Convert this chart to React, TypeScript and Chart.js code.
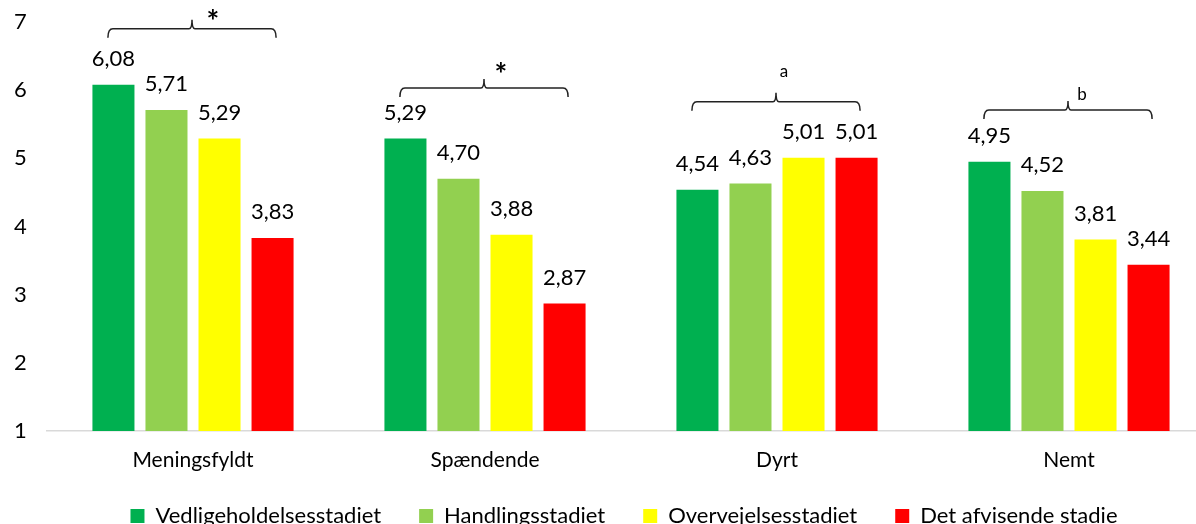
import React, { useEffect, useRef } from "react";
import { Chart, registerables } from "chart.js";

Chart.register(...registerables);

const categories = ["Meningsfyldt", "Spændende", "Dyrt", "Nemt"];
const seriesNames = [
  "Vedligeholdelsesstadiet",
  "Handlingsstadiet",
  "Overvejelsesstadiet",
  "Det afvisende stadie",
];
const vedligehold = [6.08, 5.29, 4.54, 4.95];
const handling = [5.71, 4.7, 4.63, 4.52];
const overvejelse = [5.29, 3.88, 5.01, 3.81];
const afvisende = [3.83, 2.87, 5.01, 3.44];
const yTicks = [1, 2, 3, 4, 5, 6, 7];

// significance brackets (levels in axis units)
const bracketLevels = [6.9, 6.03, 5.83, 5.71];
const bracketMarks = ["*", "*", "a", "b"];
const markLevels = [7.1, 6.32, 6.27, 5.93];

// styling
const colors = ["#00B050", "#92D050", "#FFFF00", "#FF0000"];
const markOffsetsPx = [21, 17, 8, 14];
const FONT = "Lato, 'Open Sans', sans-serif";
const LEGEND_SHIFT = 10;

const fmt = (v: number) => v.toFixed(2).replace(".", ",");

const labelPlugin = {
  id: "valueLabels",
  afterDatasetsDraw(chart: any) {
    const ctx = chart.ctx;
    ctx.save();
    ctx.font = `22px ${FONT}`;
    ctx.fillStyle = "#000";
    ctx.textAlign = "center";
    ctx.textBaseline = "middle";
    chart.data.datasets.forEach((ds: any, di: number) => {
      const meta = chart.getDatasetMeta(di);
      meta.data.forEach((el: any, i: number) => {
        ctx.fillText(fmt(ds.data[i]), el.x, el.y - 26);
      });
    });
    ctx.restore();
  },
};

const legendShiftPlugin = {
  id: "legendShift",
  afterLayout(chart: any) {
    const lg = chart.legend;
    if (lg) {
      lg.top -= LEGEND_SHIFT;
      lg.bottom -= LEGEND_SHIFT;
    }
  },
};

const bracketPlugin = {
  id: "brackets",
  afterDraw(chart: any) {
    const ctx = chart.ctx;
    const x = chart.scales.x;
    const y = chart.scales.y;
    const catW = (x.right - x.left) / categories.length;
    ctx.save();
    ctx.strokeStyle = "#222";
    ctx.lineWidth = 1.5;
    categories.forEach((_, i) => {
      const xc = x.getPixelForValue(i) - 1;
      const half = catW * 0.288;
      const x0 = xc - half;
      const x1 = xc + half;
      const yl = y.getPixelForValue(bracketLevels[i]);
      const d = 9;
      ctx.beginPath();
      ctx.moveTo(x0, yl + d);
      ctx.quadraticCurveTo(x0, yl, x0 + 5, yl);
      ctx.lineTo(xc - 3, yl);
      ctx.quadraticCurveTo(xc, yl, xc, yl - d);
      ctx.quadraticCurveTo(xc, yl, xc + 3, yl);
      ctx.lineTo(x1 - 5, yl);
      ctx.quadraticCurveTo(x1, yl, x1, yl + d);
      ctx.stroke();
      const mark = bracketMarks[i];
      ctx.fillStyle = "#000";
      ctx.textAlign = "center";
      ctx.textBaseline = "middle";
      ctx.font = mark === "*" ? `bold 30px ${FONT}` : `17px ${FONT}`;
      const my = y.getPixelForValue(markLevels[i]) + (mark === "*" ? 7 : 0);
      ctx.fillText(mark, xc + markOffsetsPx[i], my);
    });
    ctx.restore();
  },
};

export default function App() {
  const ref = useRef<HTMLCanvasElement>(null);
  useEffect(() => {
    const canvas = ref.current;
    if (!canvas) return;
    const seriesData = [vedligehold, handling, overvejelse, afvisende];
    const chart = new Chart(canvas, {
      type: "bar",
      data: {
        labels: categories,
        datasets: seriesNames.map((name, i) => ({
          label: name,
          data: seriesData[i],
          backgroundColor: colors[i],
          borderWidth: 0,
          categoryPercentage: 0.7265,
          barPercentage: 0.7925,
        })),
      },
      options: {
        responsive: false,
        animation: false,
        devicePixelRatio: 1,
        layout: { padding: { top: 22, left: 33, right: 0, bottom: 4 } },
        plugins: {
          tooltip: { enabled: false },
          legend: {
            position: "bottom",
            labels: {
              boxWidth: 14,
              boxHeight: 14,
              padding: 38,
              color: "#000",
              font: { family: FONT, size: 22 },
            },
          },
        },
        scales: {
          x: {
            grid: { display: false, drawTicks: false },
            border: { display: true, color: "#D9D9D9", width: 1.5 },
            ticks: {
              color: "#000",
              padding: 17,
              font: { family: FONT, size: 21 },
            },
            afterFit: (s: any) => {
              s.height = 46;
            },
          },
          y: {
            min: 1,
            max: 7,
            afterBuildTicks: (s: any) => {
              s.ticks = yTicks.map((v) => ({ value: v }));
            },
            grid: { display: false, drawTicks: false },
            border: { display: false },
            ticks: {
              color: "#000",
              mirror: true,
              padding: -33,
              font: { family: FONT, size: 22 },
            },
            afterFit: (s: any) => {
              s.width = 14;
            },
          },
        },
      },
      plugins: [labelPlugin, bracketPlugin, legendShiftPlugin],
    });
    return () => chart.destroy();
  }, []);

  return (
    <div
      style={{
        position: "fixed",
        left: 0,
        top: 0,
        width: 1196,
        height: 524,
        overflow: "hidden",
        background: "#fff",
      }}
    >
      <canvas ref={ref} width={1215} height={551} style={{ display: "block" }} />
    </div>
  );
}
